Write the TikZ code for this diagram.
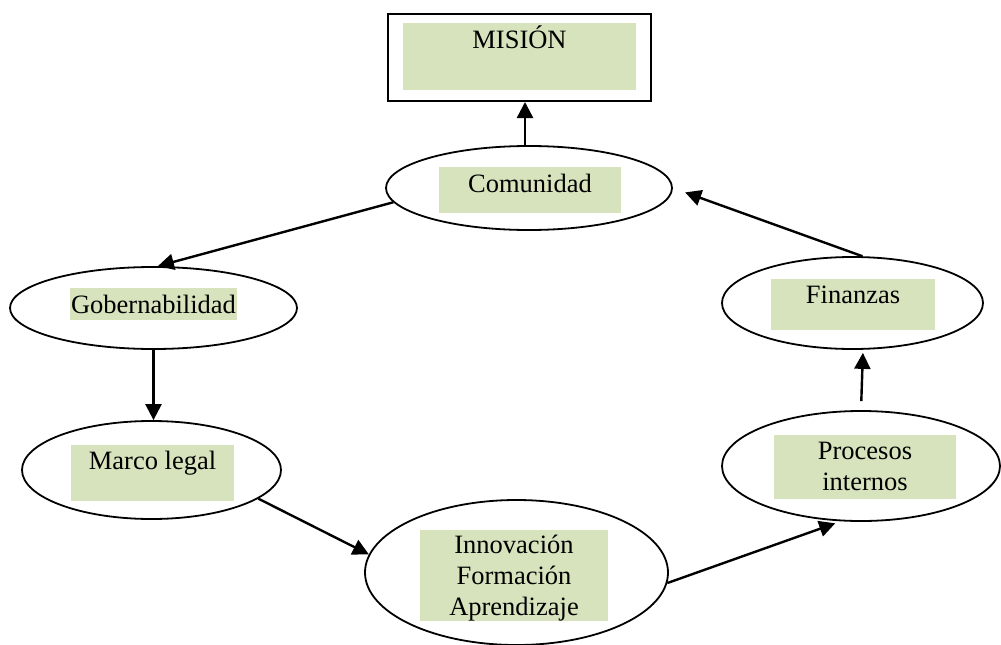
\documentclass[tikz,border=0pt]{standalone}
\usepackage{fontspec}
\setmainfont{Liberation Serif}
\usetikzlibrary{shapes.geometric,arrows.meta,calc}
\definecolor{leaf}{HTML}{D7E3BC}
\begin{document}
\begin{tikzpicture}[x=1pt,y=-1pt,
  oval/.style={draw,line width=1.8pt,ellipse,inner sep=0pt},
  lbl/.style={font=\fontsize{26.5}{31}\selectfont,align=center,anchor=base,inner sep=0pt},
  arr/.style={line width=2.4pt,-{Triangle[length=16pt,width=16pt]}}]
\useasboundingbox (0,0) rectangle (1001,645);

% mission box
\node[draw,line width=2pt,minimum width=263pt,minimum height=87pt,inner sep=0pt] (mis) at (519.5,57.5) {};
\fill[leaf] (403,23) rectangle (636,90);
\node[lbl] (tmis) at (519.5,48) {MISIÓN};

% perspectives
\node[oval,minimum width=286pt,minimum height=84pt] (com) at (529,188) {};
\node[oval,minimum width=287pt,minimum height=82pt] (gob) at (153.5,308) {};
\node[oval,minimum width=259pt,minimum height=98pt] (marco) at (151.5,470) {};
\node[oval,minimum width=303pt,minimum height=145pt] (innov) at (516.5,572.5) {};
\node[oval,minimum width=278pt,minimum height=110pt] (proc) at (861,466) {};
\node[oval,minimum width=261pt,minimum height=92pt] (fin) at (852.5,303) {};

% highlighted labels
\fill[leaf] (439,167) rectangle (621,213);
\fill[leaf] (70,288) rectangle (237,320);
\fill[leaf] (71,445) rectangle (234,501);
\fill[leaf] (420,530) rectangle (608,621);
\fill[leaf] (774,435) rectangle (956,499);
\fill[leaf] (771,279) rectangle (935,330);

% labels (multi-line labels are placed by their last baseline)
\node[lbl] (tcom) at (530,192) {Comunidad};
\node[lbl] (tgob) at (153.5,313) {Gobernabilidad};
\node[lbl] (tmarco) at (152.5,469) {Marco legal};
\node[lbl] (tinnov) at (514,615) {Innovación\\Formación\\Aprendizaje};
\node[lbl] (tproc) at (865,490) {Procesos\\internos};
\node[lbl] (tfin) at (853,303) {Finanzas};

% connectors
\draw[arr] ([xshift=-4pt]com.north) -- ([xshift=-4pt]com.north |- mis.south);
\draw[arr] (com.186) -- (gob.84);
\draw[arr] (gob.south) -- (gob.south |- marco.north);
\draw[arr] (marco.-15) -- (innov.173);
\draw[arr,shorten >=6pt] (innov.-4) -- (proc.250);
\draw[arr,shorten <=9pt,shorten >=3pt] (proc.north) -- ([xshift=2pt]proc.north |- fin.south);
\draw[arr,shorten >=13pt] (fin.78) -- (com.east);
\end{tikzpicture}
\end{document}
